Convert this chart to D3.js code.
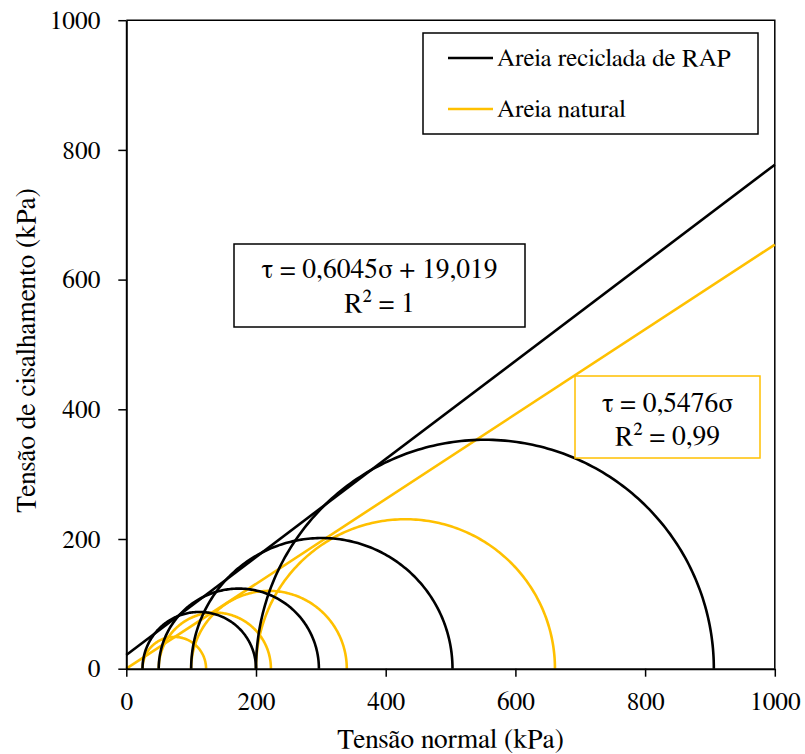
<!DOCTYPE html>
<html>
<head>
<meta charset="utf-8">
<script src="https://cdn.jsdelivr.net/npm/d3@7"></script>
</head>
<body style="margin:0">
<svg id="chart" width="805" height="754"></svg>
<script>
// ---- Data ----
const xTicks = [0, 200, 400, 600, 800, 1000];
const yTicks = [0, 200, 400, 600, 800, 1000];
const seriesNames = ["Areia reciclada de RAP", "Areia natural"];
const seriesColors = ["#000000", "#FFC000"];
// Mohr circles: minor / major principal stresses (kPa)
const rapSigma3 = [25, 50, 100, 200];
const rapSigma1 = [200, 297, 503, 906];
const natSigma3 = [25, 50, 100, 200];
const natSigma1 = [123, 223, 340, 661];
// Failure envelopes drawn (sigma, tau) endpoints
const rapEnvelopeX = [0, 1000];
const rapEnvelopeY = [21, 777];
const natEnvelopeX = [0, 1000];
const natEnvelopeY = [0, 654];
// Equation labels
const rapEquation = ["τ = 0,6045σ + 19,019", "R² = 1"];
const natEquation = ["τ = 0,5476σ", "R² = 0,99"];

// ---- Layout ----
const FONT = "FreeSerif, 'Liberation Serif', 'Times New Roman', serif";
const svg = d3.select("#chart");
const pLeft = 126.3, pRight = 774.8, pTop = 20.2, pBottom = 668.7;
const x = d3.scaleLinear().domain([0, 1000]).range([pLeft, pRight]);
const y = d3.scaleLinear().domain([0, 1000]).range([pBottom, pTop]);

function txt(sel, size) {
  return sel.style("font-family", FONT).attr("font-size", size).attr("fill", "#000");
}

const plot = svg.append("g");

// Frame (top & right)
plot.append("path")
  .attr("d", `M${pLeft},${pTop}H${pRight}V${pBottom}`)
  .attr("fill", "none").attr("stroke", "#000").attr("stroke-width", 1.5);

const line = d3.line().x(d => x(d[0])).y(d => y(d[1]));
function envelope(xs, ys, color) {
  plot.append("path")
    .datum(xs.map((v, i) => [v, ys[i]]))
    .attr("d", line)
    .attr("fill", "none").attr("stroke", color).attr("stroke-width", 2.6);
}

function circles(s3, s1, color) {
  s3.forEach((a, i) => {
    const b = s1[i];
    const c = (a + b) / 2, r = (b - a) / 2;
    const pts = d3.range(0, 181).map(k => {
      const t = Math.PI - k * Math.PI / 180;
      return [c + r * Math.cos(t), r * Math.sin(t)];
    });
    plot.append("path").datum(pts).attr("d", line)
      .attr("fill", "none").attr("stroke", color).attr("stroke-width", 2.6);
  });
}

circles(natSigma3, natSigma1, seriesColors[1]);
envelope(natEnvelopeX, natEnvelopeY, seriesColors[1]);
circles(rapSigma3, rapSigma1, seriesColors[0]);
envelope(rapEnvelopeX, rapEnvelopeY, seriesColors[0]);

// Axes
const xAxis = d3.axisBottom(x).tickValues(xTicks).tickSize(8).tickSizeOuter(0).tickPadding(15).tickFormat(d3.format("d"));
const yAxis = d3.axisLeft(y).tickValues(yTicks).tickSize(8).tickSizeOuter(0).tickPadding(18).tickFormat(d3.format("d"));
const gx = svg.append("g").attr("transform", `translate(0,${pBottom})`).call(xAxis);
const gy = svg.append("g").attr("transform", `translate(${pLeft},0)`).call(yAxis);
[gx, gy].forEach(g => {
  g.attr("font-family", null).attr("font-size", null);
  g.select(".domain").attr("stroke", "#000").attr("stroke-width", 2);
  g.selectAll(".tick line").attr("stroke", "#000").attr("stroke-width", 1.5);
  txt(g.selectAll(".tick text"), 25.3);
});

// Axis titles
txt(svg.append("text"), 27.5).attr("x", (pLeft + pRight) / 2).attr("y", 748)
  .attr("text-anchor", "middle").text("Tensão normal (kPa)");
txt(svg.append("text"), 27.5).attr("transform", `translate(35,${(pTop + pBottom) / 2 + 6}) rotate(-90)`)
  .attr("text-anchor", "middle").text("Tensão de cisalhamento (kPa)");

// Legend
const lg = svg.append("g");
lg.append("rect").attr("x", 423).attr("y", 33).attr("width", 335).attr("height", 101)
  .attr("fill", "#fff").attr("stroke", "#000").attr("stroke-width", 1.5);
seriesNames.forEach((name, i) => {
  const yy = 58 + i * 51;
  lg.append("line").attr("x1", 448).attr("x2", 493).attr("y1", yy).attr("y2", yy)
    .attr("stroke", seriesColors[i]).attr("stroke-width", 2.6);
  txt(lg.append("text"), 25).attr("x", 497).attr("y", yy + 8).text(name);
});

// Equation boxes
function eqBox(x0, y0, w, h, stroke, lines, baselines) {
  const g = svg.append("g");
  g.append("rect").attr("x", x0).attr("y", y0).attr("width", w).attr("height", h)
    .attr("fill", "#fff").attr("stroke", stroke).attr("stroke-width", 1.5);
  lines.forEach((t, i) => {
    txt(g.append("text"), 27.5).attr("x", x0 + w / 2).attr("y", baselines[i])
      .attr("text-anchor", "middle").text(t);
  });
}
eqBox(234, 244, 291, 83, "#000", rapEquation, [278, 312]);
eqBox(575, 376, 185, 82, "#FFC000", natEquation, [412, 445]);
</script>
</body>
</html>
